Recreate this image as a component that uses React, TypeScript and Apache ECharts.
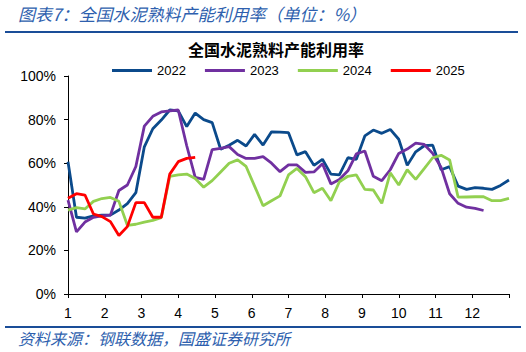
import React, { useEffect, useRef } from "react";
import * as echarts from "echarts";

const seriesNames = ["2022", "2023", "2024", "2025"];
const monthLabels = ["1", "2", "3", "4", "5", "6", "7", "8", "9", "10", "11", "12"];
const weeksPerYear = 52;

const v2022 = [60.7, 35.2, 34.8, 35.8, 36.2, 36.2, 38.5, 41.5, 46.5, 67.5, 75.8, 79.8, 84.4, 84, 76.8, 83, 80, 78.6, 66.4, 68.2, 70.5, 67.9, 73.2, 68.3, 74.4, 74.3, 74, 63.8, 65.3, 59, 61.8, 55, 54.6, 62.5, 61.8, 72.5, 75.2, 73.7, 75.5, 71, 59, 65.2, 68, 68.3, 57, 58.4, 49.5, 48, 48.8, 48.5, 48, 49.8, 52.3];
const v2023 = [43.1, 28.5, 33, 35.2, 35.8, 36.2, 47.5, 50, 58.5, 77, 81.5, 83.5, 84, 84.4, 68, 53.5, 52.6, 66.2, 66.8, 67.6, 64, 62.2, 62.2, 63, 60, 56.1, 59.2, 59.2, 55.8, 56, 59.8, 50.5, 52.5, 56.5, 64.3, 65.6, 54, 52, 57, 64.5, 66.5, 69.2, 68.6, 64.5, 58, 46, 41.6, 39.8, 39.3, 38.3];
const v2024 = [38.5, 39.6, 39, 42.5, 43.8, 44.3, 42.5, 31.5, 32, 33, 33.8, 35, 54, 54.6, 55, 53, 49, 52, 56, 60, 61.5, 58.5, 49.5, 40.5, 42.8, 45, 54.6, 57.6, 53.8, 46.5, 48.5, 42.8, 51.5, 54, 54.6, 48, 47.7, 41.6, 55.6, 50, 57, 52.6, 57.5, 62.5, 63.6, 61.5, 44.4, 44.5, 44.6, 44.6, 42.8, 42.8, 43.9];
const v2025 = [43.9, 46, 45.4, 36.7, 35.5, 33.2, 26.8, 30.9, 41.9, 41.9, 35.2, 35.2, 55, 60.7, 62.2, 62.7];

const colors = ["#0b4a8b", "#7030a0", "#92d050", "#ff0000"];
const allValues = [v2022, v2023, v2024, v2025];

const headerText = "图表7：全国水泥熟料产能利用率（单位：%）";
const chartTitle = "全国水泥熟料产能利用率";
const sourceText = "资料来源：钢联数据，国盛证券研究所";

const CN = "'Noto Sans CJK SC', sans-serif";
const LAT = "'Liberation Sans', Arial, 'Noto Sans CJK SC', sans-serif";

export default function App() {
  const ref = useRef<HTMLDivElement>(null);
  useEffect(() => {
    if (!ref.current) return;
    const chart = echarts.init(ref.current, undefined, { renderer: "svg" });
    const series = seriesNames.map((name, k) => ({
      name,
      type: "line",
      data: allValues[k].map((y, i) => [(i * 12) / weeksPerYear, y]),
      symbol: "none",
      showSymbol: false,
      lineStyle: { color: colors[k], width: 2.8 },
      itemStyle: { color: colors[k] },
      z: 2 + k,
    }));
    chart.setOption({
      animation: false,
      backgroundColor: "#ffffff",
      grid: { left: 68, right: 17, top: 76, bottom: 58, containLabel: false },
      legend: {
        data: seriesNames,
        left: 107,
        top: 59,
        icon: "rect",
        itemWidth: 40,
        itemHeight: 3,
        itemGap: 19,
        textStyle: { fontSize: 13, fontFamily: LAT, color: "#000" },
      },
      xAxis: {
        type: "value",
        min: 0,
        max: 12,
        interval: 1,
        splitLine: { show: false },
        axisLine: { show: true, lineStyle: { color: "#000", width: 1 } },
        axisTick: { show: true, length: 4, lineStyle: { color: "#000" } },
        axisLabel: {
          margin: 12,
          fontSize: 14,
          fontFamily: LAT,
          color: "#000",
          formatter: (v: number) => monthLabels[Math.round(v)] ?? "",
        },
      },
      yAxis: {
        type: "value",
        min: 0,
        max: 100,
        interval: 20,
        splitLine: { show: false },
        axisLine: { show: true, lineStyle: { color: "#000", width: 1 } },
        axisTick: { show: true, length: 4, lineStyle: { color: "#000" } },
        axisLabel: {
          margin: 12,
          fontSize: 14,
          fontFamily: LAT,
          color: "#000",
          formatter: "{value}%",
        },
      },
      graphic: [
        {
          type: "text",
          left: 18,
          top: 5,
          style: {
            text: headerText,
            font: `italic 17px ${CN}`,
            fill: "#2e5fae",
          },
        },
        {
          type: "line",
          shape: { x1: 5, y1: 32, x2: 518, y2: 32 },
          style: { stroke: "#1a4d98", lineWidth: 2 },
        },
        {
          type: "text",
          x: 276,
          y: 49,
          style: {
            text: chartTitle,
            font: `bold 16px ${CN}`,
            fill: "#000",
            align: "center",
            verticalAlign: "middle",
          },
        },
        {
          type: "line",
          shape: { x1: 5, y1: 327, x2: 521, y2: 327 },
          style: { stroke: "#1a4d98", lineWidth: 2 },
        },
        {
          type: "text",
          left: 18,
          top: 330,
          style: {
            text: sourceText,
            font: `italic 16px ${CN}`,
            fill: "#2e5fae",
          },
        },
      ],
      series,
    });
    return () => chart.dispose();
  }, []);
  return (
    <div
      ref={ref}
      style={{ position: "absolute", left: 0, top: 0, width: 526, height: 352 }}
    />
  );
}
